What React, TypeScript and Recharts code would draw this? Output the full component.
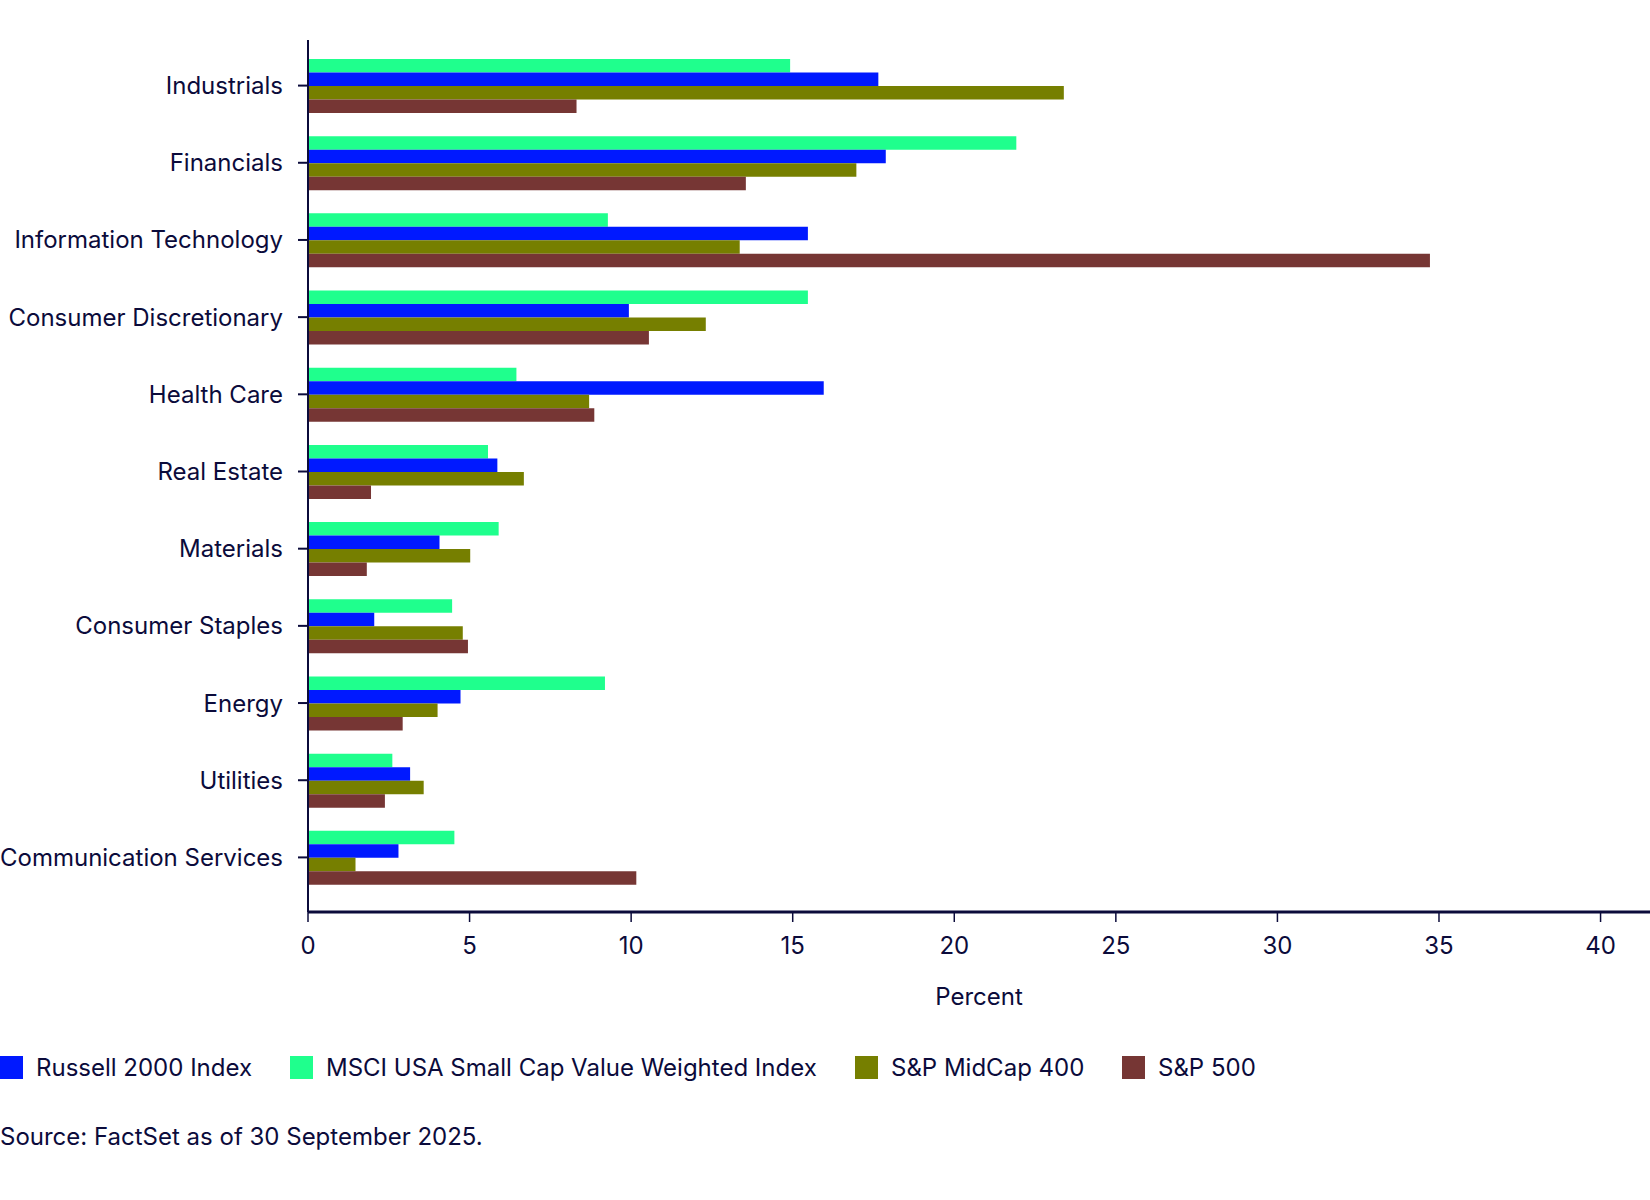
import * as React from "react";
import { Bar, BarChart, Label, XAxis, YAxis } from "recharts";

const FONT = "Inter, 'Noto Sans', sans-serif";
const INK = "#0b0b3b";
const FS = 24;

const SECTORS = [
  "Industrials",
  "Financials",
  "Information Technology",
  "Consumer Discretionary",
  "Health Care",
  "Real Estate",
  "Materials",
  "Consumer Staples",
  "Energy",
  "Utilities",
  "Communication Services"
];

const MSCI = [14.92, 21.92, 9.28, 15.47, 6.45, 5.57, 5.9, 4.46, 9.19, 2.61, 4.53];
const RUSSELL = [17.65, 17.88, 15.47, 9.93, 15.96, 5.86, 4.07, 2.05, 4.72, 3.16, 2.8];
const MIDCAP = [23.39, 16.97, 13.36, 12.31, 8.7, 6.68, 5.02, 4.79, 4.01, 3.58, 1.47];
const SP500 = [8.31, 13.55, 34.72, 10.55, 8.86, 1.95, 1.82, 4.95, 2.93, 2.38, 10.16];

const X_TICKS = [0, 5, 10, 15, 20, 25, 30, 35, 40];

const SERIES = [
  { key: "russell", label: "Russell 2000 Index", color: "#0019ff" },
  { key: "msci", label: "MSCI USA Small Cap Value Weighted Index", color: "#1fff8d" },
  { key: "midcap", label: "S&P MidCap 400", color: "#767f00" },
  { key: "sp500", label: "S&P 500", color: "#763634" }
];

// bar draw order (top to bottom inside each group)
const BAR_ORDER = ["msci", "russell", "midcap", "sp500"];

const data = SECTORS.map((sector, i) => ({
  sector,
  msci: MSCI[i],
  russell: RUSSELL[i],
  midcap: MIDCAP[i],
  sp500: SP500[i]
}));

const LEGEND_X = [0, 290, 855, 1122];

export default function App() {
  return (
    <div
      style={{
        position: "absolute",
        left: 0,
        top: 0,
        width: 1650,
        height: 1200,
        background: "#fff",
        fontFamily: FONT,
        color: INK
      }}
    >
      <BarChart
        width={1650}
        height={1012}
        data={data}
        layout="vertical"
        margin={{ top: 40, right: 0, left: 0, bottom: 0 }}
        barGap={0}
        barSize={13.5}
      >
        <XAxis
          type="number"
          domain={[0, 41.53]}
          ticks={X_TICKS}
          allowDataOverflow
          height={100}
          tickSize={10}
          tickMargin={15}
          axisLine={{ stroke: INK, strokeWidth: 3 }}
          tickLine={{ stroke: INK, strokeWidth: 1.5 }}
          tick={{ fill: INK, fontSize: FS, fontFamily: FONT }}
        >
          <Label
            value="Percent"
            position="insideBottom"
            offset={7}
            style={{ fill: INK, fontSize: FS, fontFamily: FONT }}
          />
        </XAxis>
        <YAxis
          type="category"
          dataKey="sector"
          width={308}
          padding={{ top: 7, bottom: 16 }}
          tickSize={10}
          tickMargin={15}
          axisLine={{ stroke: INK, strokeWidth: 2 }}
          tickLine={{ stroke: INK, strokeWidth: 2 }}
          tick={{ fill: INK, fontSize: FS, fontFamily: FONT }}
          interval={0}
        />
        {BAR_ORDER.map((k) => {
          const s = SERIES.find((x) => x.key === k)!;
          return (
            <Bar
              key={k}
              dataKey={k}
              name={s.label}
              fill={s.color}
              isAnimationActive={false}
            />
          );
        })}
      </BarChart>
      {SERIES.map((s, i) => (
        <div
          key={s.key}
          style={{
            position: "absolute",
            left: LEGEND_X[i],
            top: 1055,
            height: 24,
            display: "flex",
            alignItems: "center",
            fontSize: FS,
            whiteSpace: "nowrap"
          }}
        >
          <span
            style={{
              display: "inline-block",
              width: 23,
              height: 23,
              background: s.color,
              marginRight: 13
            }}
          />
          {s.label}
        </div>
      ))}
      <div
        style={{
          position: "absolute",
          left: 0,
          top: 1122,
          fontSize: FS,
          whiteSpace: "nowrap"
        }}
      >
        Source: FactSet as of 30 September 2025.
      </div>
    </div>
  );
}
